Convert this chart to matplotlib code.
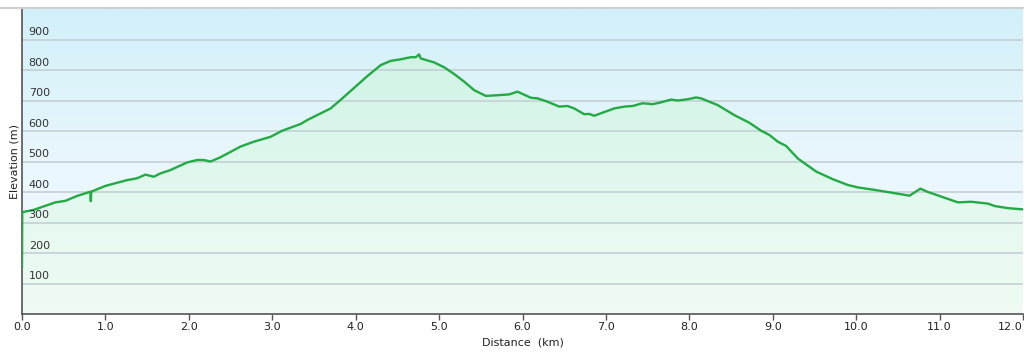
import numpy as np
import matplotlib.pyplot as plt
from matplotlib.colors import LinearSegmentedColormap

# distance (km) and elevation (m)
distance = [0.0, 0.003, 0.136, 0.40, 0.52, 0.66, 0.82, 0.825, 0.83, 1.0, 1.26, 1.38,
            1.48, 1.58, 1.66, 1.78, 1.98, 2.1, 2.18, 2.26, 2.38, 2.62, 2.78, 2.98,
            3.12, 3.34, 3.42, 3.70, 3.84, 4.14, 4.30, 4.42, 4.54, 4.66, 4.72, 4.76,
            4.78, 4.84, 4.94, 5.06, 5.18, 5.30, 5.42, 5.56, 5.74, 5.84, 5.94, 6.10,
            6.18, 6.30, 6.44, 6.54, 6.62, 6.74, 6.80, 6.86, 6.94, 7.10, 7.22, 7.32,
            7.44, 7.56, 7.66, 7.78, 7.86, 7.98, 8.08, 8.14, 8.34, 8.54, 8.72, 8.86,
            8.96, 9.06, 9.16, 9.30, 9.52, 9.72, 9.90, 10.02, 10.22, 10.42, 10.64,
            10.77, 10.86, 11.02, 11.22, 11.38, 11.58, 11.66, 11.82, 12.0]
elevation = [155, 334, 341, 366, 371, 387, 401, 370, 401, 420, 439, 445,
             457, 450, 461, 472, 497, 505, 505, 500, 514, 549, 565, 581,
             601, 623, 636, 674, 707, 780, 816, 830, 835, 842, 842, 851,
             838, 833, 825, 809, 787, 762, 734, 715, 718, 720, 729, 709,
             707, 696, 680, 682, 674, 655, 656, 650, 658, 674, 680, 682,
             691, 688, 694, 703, 700, 704, 710, 707, 685, 652, 627, 601,
             587, 565, 551, 510, 467, 442, 423, 415, 407, 398, 388,
             411, 400, 385, 366, 368, 362, 354, 347, 343]

x_ticks = [0, 1, 2, 3, 4, 5, 6, 7, 8, 9, 10, 11, 12]
y_ticks = [100, 200, 300, 400, 500, 600, 700, 800, 900]

W, H = 1024, 353
fig = plt.figure(figsize=(W / 100, H / 100), dpi=100)
ax = fig.add_axes([22 / W, (H - 314) / H, 1001 / W, 305 / H])
ax.set_xlim(0, 12)
ax.set_ylim(0, 1000)

# sky gradient background (bottom -> top)
bg = LinearSegmentedColormap.from_list("bg", ["#f4fbfd", "#e9f7fc", "#d2f0fa"])
ax.imshow(np.linspace(0, 1, 256).reshape(-1, 1), cmap=bg, aspect="auto",
          origin="lower", extent=[0, 12, 0, 1000], zorder=0)

# green gradient fill under the line, clipped to the profile
poly = ax.fill_between(distance, elevation, 0, color="none", zorder=1)
fg = LinearSegmentedColormap.from_list("fg", ["#effbf3", "#e2f8ef", "#d0f3e6"])
fill = ax.imshow(np.linspace(0, 1, 256).reshape(-1, 1), cmap=fg, aspect="auto",
                 origin="lower", extent=[0, 12, 0, 860], zorder=1)
fill.set_clip_path(poly.get_paths()[0], transform=ax.transData)

for y in y_ticks:
    ax.axhline(y, color="#c4d0d4", lw=1.2, zorder=2)
    ax.text(0.08, y + 8, str(y), fontsize=8, color="#333333", ha="left",
            va="bottom", zorder=4)

ax.plot(distance, elevation, color="#22aa44", lw=1.7, zorder=3)

ax.set_xticks(x_ticks)
ax.set_xticklabels([f"{v:.1f}" for v in x_ticks], fontsize=8, color="#222222")
ax.get_xticklabels()[-1].set_horizontalalignment("right")
ax.set_yticks([])
ax.tick_params(axis="x", direction="out", length=4, width=1, color="#555555", pad=2)
for side in ["top", "right"]:
    ax.spines[side].set_visible(False)
ax.spines["left"].set_color("#555555")
ax.spines["bottom"].set_color("#555555")
ax.spines["left"].set_linewidth(1.2)
ax.spines["bottom"].set_linewidth(1.2)

ax.set_xlabel("Distance  (km)", fontsize=8, color="#222222", labelpad=4)
ax.set_ylabel("Elevation (m)", fontsize=8, color="#222222", labelpad=2)

# top border strip
fig.add_artist(plt.Line2D([0, 1], [(H - 8) / H, (H - 8) / H], color="#cfcfcf", lw=1.5))

fig.savefig("out.png", dpi=100)
